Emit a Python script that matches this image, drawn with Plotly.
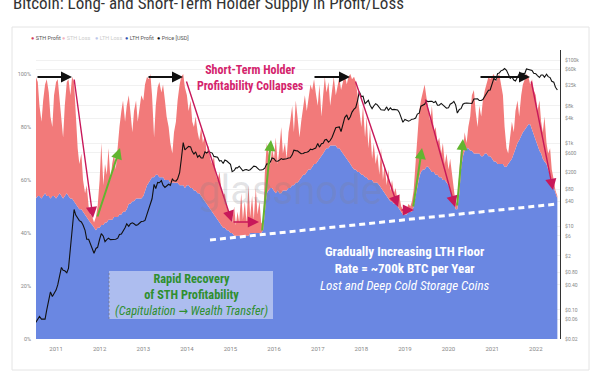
import math
import pandas as pd
import plotly.graph_objects as go

# ---------------- data (semi-monthly: 1st & 15th, 2010-07-15 .. 2022-07-01) ----------------
lth_profit = [  # % of circulating supply held by LTHs in profit
    53, 54, 54, 53, 54, 55, 54, 54, 53, 54, 54,
    53, 54, 55, 54, 53, 54, 55, 54, 53, 53, 52, 51, 50, 49, 49, 48, 47, 46, 45, 44, 43, 42, 41, 42,
    42, 43, 43, 44, 44, 45, 45, 45, 46, 46, 46, 47, 47, 48, 48, 49, 51, 51, 52, 52, 53, 53, 53, 53,
    54, 56, 58, 59, 60, 61, 61, 62, 62, 61, 61, 61, 60, 60, 60, 59, 59, 59, 59, 59, 58, 58, 58, 57,
    58, 58, 57, 57, 56, 56, 55, 55, 54, 53, 52, 51, 50, 49, 48, 47, 46, 45, 44, 43, 42, 42, 41, 41,
    40, 40, 39, 39, 39, 39, 39, 39, 39, 39, 39, 40, 40, 40, 40, 40, 40, 40, 41, 48, 55, 56, 57, 57,
    56, 55, 56, 55, 55, 56, 56, 56, 57, 57, 58, 58, 59, 59, 60, 61, 62, 62, 63, 64, 64, 65, 66, 66,
    67, 68, 69, 70, 71, 72, 72, 73, 73, 73, 73, 72, 72, 71, 70, 69, 68, 67, 66, 65, 64, 64, 63, 63,
    62, 62, 61, 61, 60, 60, 60, 59, 59, 59, 58, 57, 56, 55, 54, 53, 52, 52, 51, 51, 50, 49, 48, 47,
    47, 47, 48, 48, 48, 50, 54, 58, 61, 63, 64, 64, 65, 65, 64, 63, 63, 62, 62, 61, 61, 60, 60, 59,
    58, 56, 54, 52, 49, 49, 55, 64, 69, 71, 72, 72, 71, 71, 70, 70, 70, 70, 69, 69, 70, 70, 69, 69,
    68, 67, 67, 66, 66, 66, 66, 65, 65, 66, 67, 68, 70, 72, 74, 75, 77, 78, 79, 80, 81, 81, 79, 77,
    75, 73, 71, 70, 68, 67, 66, 64, 62, 60, 57, 55, 53,
]
sth_profit = [  # % of circulating supply held by STHs in profit
    46, 43, 34, 29, 36, 41, 44, 39, 31, 26, 38,
    44, 44, 35, 28, 23, 34, 42, 44, 39, 46, 45, 34, 22, 17, 21, 12, 8, 12, 5, 3, 3, 2, 5, 8,
    18, 31, 15, 22, 18, 27, 15, 21, 24, 18, 28, 33, 39, 42, 34, 39, 41, 33, 26, 34, 37, 29, 35, 39,
    36, 40, 41, 39, 40, 31, 15, 26, 33, 36, 32, 35, 30, 24, 20, 15, 11, 19, 23, 31, 38, 41, 42, 38,
    34, 28, 33, 25, 24, 28, 23, 20, 26, 21, 25, 19, 23, 19, 18, 22, 16, 15, 19, 14, 12, 13, 9, 7,
    6, 4, 11, 4, 9, 5, 16, 6, 13, 5, 19, 6, 14, 5, 17, 7, 12, 4, 2, 14, 19, 14, 9, 15,
    12, 21, 10, 17, 25, 14, 18, 12, 21, 25, 30, 20, 31, 25, 16, 21, 26, 30, 23, 26, 32, 29, 32, 27,
    21, 28, 15, 22, 28, 21, 25, 15, 22, 26, 19, 24, 27, 23, 28, 31, 28, 32, 34, 33, 35, 33, 29, 23,
    18, 26, 15, 23, 12, 20, 8, 15, 7, 11, 4, 15, 4, 11, 4, 11, 4, 8, 4, 6, 2, 5, 2, 2,
    3, 2, 3, 2, 4, 6, 14, 20, 25, 27, 30, 32, 26, 21, 18, 25, 15, 18, 12, 15, 9, 14, 6, 11,
    6, 12, 8, 6, 2, 3, 7, 8, 1, 7, 2, 8, 13, 21, 24, 16, 10, 18, 15, 21, 24, 26, 30, 29,
    31, 33, 30, 33, 34, 30, 26, 15, 7, 4, 9, 14, 8, 14, 16, 9, 15, 18, 19, 20, 18, 15, 19, 17,
    17, 13, 19, 12, 10, 17, 8, 6, 10, 4, 3, 1, 1,
]
price_usd = [
    0.05, 0.06, 0.07, 0.06, 0.06, 0.06, 0.10, 0.19, 0.27, 0.21, 0.24,
    0.30, 0.40, 0.70, 1.05, 0.90, 0.87, 0.78, 1.0, 3.0, 7.5, 26, 19, 16, 14, 13, 11, 8.2, 5.0, 5.0, 4.0, 3.2, 2.3, 3.0, 3.2,
    5.0, 6.8, 5.9, 4.4, 4.9, 5.3, 4.9, 4.9, 5.0, 5.0, 5.3, 6.5, 6.7, 7.6, 9.4, 11.7, 10.2, 11.8, 12.4, 11.8, 10.8, 11.2, 12.5, 13.3,
    13.5, 14.2, 20, 27, 34, 47, 104, 83, 116, 114, 129, 100, 88, 98, 105, 99, 140, 127, 125, 141, 200, 420, 1050, 700,
    770, 850, 830, 640, 560, 630, 470, 520, 450, 450, 630, 590, 640, 620, 590, 490, 480, 470, 380, 390, 330, 400, 380, 350,
    315, 210, 225, 260, 260, 285, 245, 220, 235, 237, 225, 235, 260, 285, 280, 260, 230, 230, 237, 255, 325, 320, 360, 450,
    430, 380, 375, 400, 435, 415, 415, 430, 450, 455, 535, 690, 675, 665, 610, 570, 575, 610, 615, 640, 730, 710, 750, 780,
    1000, 820, 985, 1010, 1220, 1250, 1080, 1180, 1420, 1750, 2400, 2450, 2500, 1930, 2870, 4200, 4900, 3700, 4400, 5700, 6700, 7300, 10900, 17600,
    13500, 13800, 9100, 10100, 10900, 8300, 6900, 8000, 9100, 8500, 7500, 6500, 6400, 6300, 7600, 6300, 7200, 6500, 6600, 6600, 6400, 5600, 4200, 3250,
    3800, 3600, 3450, 3600, 3850, 3900, 4100, 5100, 5350, 7900, 8600, 8800, 10600, 10200, 10400, 10300, 9600, 10300, 8300, 8350, 9200, 8500, 7400, 7100,
    7200, 8800, 9400, 10300, 8500, 5400, 6600, 6900, 8800, 9300, 9450, 9400, 9200, 9200, 11800, 11900, 11900, 10800, 10800, 11400, 13800, 16000, 19000, 19400,
    29400, 36800, 33500, 48000, 49600, 55900, 58800, 63500, 57800, 46700, 36700, 40200, 33500, 31800, 39900, 47000, 48800, 48100, 48100, 62000, 61000, 60100, 57200, 48900,
    47700, 43100, 38700, 44500, 44400, 39300, 46300, 40500, 38500, 31300, 29800, 22500, 19300,
]
year_ticks = [str(y) for y in range(2011, 2023)]
pct_ticks = [0, 20, 40, 60, 80, 100]
price_ticks = [0.02, 0.06, 0.10, 0.40, 0.80, 2, 6, 10, 40, 80, 200, 600, 1000, 4000, 8000, 25000, 60000, 100000]
price_tick_text = ["$0.02", "$0.06", "$0.10", "$0.40", "$0.80", "$2", "$6", "$10", "$40", "$80",
                   "$200", "$600", "$1k", "$4k", "$8k", "$25k", "$60k", "$100k"]

dates = pd.date_range("2010-07-15", periods=len(lth_profit), freq="SMS")

# ---------------- layout geometry (pixels) ----------------
W, H = 600, 387
L, R, T, B = 36, 560, 50, 339


def PX(x):
    return (x - L) / (R - L)


def PY(y):
    return (B - y) / (B - T)


BLUE = "#6a87e2"
RED = "#f27a7a"
NARROW = "Liberation Sans Narrow, Roboto Condensed, DejaVu Sans Condensed, Roboto, sans-serif"

fig = go.Figure()
fig.add_trace(go.Scatter(x=dates, y=lth_profit, name="LTH Profit", stackgroup="s",
                         mode="lines", line=dict(width=0, color=BLUE), fillcolor=BLUE))
fig.add_trace(go.Scatter(x=dates, y=sth_profit, name="STH Profit", stackgroup="s",
                         mode="lines", line=dict(width=0, color=RED), fillcolor=RED))
fig.add_trace(go.Scatter(x=dates, y=price_usd, name="Price [USD]", yaxis="y2",
                         mode="lines", line=dict(width=1.1, color="#111111")))

shapes = []
# card
shapes.append(dict(type="rect", xref="paper", yref="paper", x0=PX(12), x1=PX(589), y0=PY(370), y1=PY(27),
                   line=dict(color="#e4e4e4", width=1), fillcolor="rgba(0,0,0,0)", layer="below"))
# rapid recovery box
shapes.append(dict(type="rect", xref="paper", yref="paper", x0=PX(109), x1=PX(273), y0=PY(319), y1=PY(271),
                   line=dict(width=0), fillcolor="rgba(255,255,255,0.45)", layer="above"))
shapes.append(dict(type="line", xref="paper", yref="paper", x0=PX(109), x1=PX(109), y0=PY(319), y1=PY(271),
                   line=dict(width=1, color="rgba(120,120,140,0.8)", dash="2px,2px"), layer="above"))
# LTH floor dashed line
shapes.append(dict(type="line", xref="paper", yref="paper", x0=PX(210), x1=PX(557), y0=PY(240), y1=PY(204),
                   line=dict(width=3, color="white", dash="6px,4px"), layer="above"))

ann = []


def arrow(x0, y0, x1, y1, color, width, size, head=2):
    ann.append(dict(xref="paper", yref="paper", x=PX(x1), y=PY(y1), ax=x0 - x1, ay=y0 - y1,
                    axref="pixel", ayref="pixel", text="", showarrow=True, arrowhead=head,
                    arrowsize=size, arrowwidth=width, arrowcolor=color, standoff=0, startstandoff=0))


for (a, b) in [(36, 72), (147, 183), (313, 350), (479, 530)]:
    arrow(a, 77, b, 77, "#111111", 2.2, 1.0)
for (x0, y0, x1, y1) in [(74, 78, 93, 218), (186, 80, 232, 222), (355, 80, 398, 207),
                         (425, 98, 455, 207), (531, 80, 553, 190), (232, 222, 259, 222), (400, 210, 414, 210)]:
    arrow(x0, y0, x1, y1, "#c8185a", 1.4, 1.6)
for (x0, y0, x1, y1) in [(97, 218, 120, 148), (262, 232, 271, 140), (413, 208, 422, 148), (457, 207, 463, 139)]:
    arrow(x0, y0, x1, y1, "#62b530", 2.0, 1.1)


def label(x, y, text, font, xanchor="center", yanchor="middle"):
    ann.append(dict(xref="paper", yref="paper", x=PX(x), y=PY(y), xanchor=xanchor, yanchor=yanchor,
                    text=text, showarrow=False, font=font))


# watermark
label(290, 190, "glassnode", dict(family="Roboto, sans-serif", size=40, color="rgba(130,130,140,0.22)"))

# titles / texts
label(11, 15, "Bitcoin: Long- and Short-Term Holder Supply in Profit/Loss",
      dict(family=NARROW, size=17, color="#333333"), xanchor="left", yanchor="bottom")
label(250, 78, "<b>Short-Term Holder<br>Profitability Collapses</b>",
      dict(family=NARROW, size=12, color="#d4246c"))
label(191, 295, "<b>Rapid Recovery<br>of STH Profitability</b><br><i>(Capitulation → Wealth Transfer)</i>",
      dict(family=NARROW, size=12.3, color="#2f8f2f"))
label(405, 268, "<b>Gradually Increasing LTH Floor<br>Rate = ~700k BTC per Year</b><br><i>Lost and Deep Cold Storage Coins</i>",
      dict(family=NARROW, size=13, color="white"))

# legend (manual)
legend_items = [(29, "#d43d5a", "STH Profit", "#555555"), (60, "#f2b5bf", "STH Loss", "#cccccc"),
                (93, "#bcc6ea", "LTH Loss", "#cccccc"), (123, "#3652b0", "LTH Profit", "#555555"),
                (155, "#111111", "Price [USD]", "#555555")]
for x, dc, lab, tc in legend_items:
    label(x, 38, f"<span style='color:{dc}'>●</span> {lab}",
          dict(family="Roboto, sans-serif", size=5.5, color=tc), xanchor="left")

fig.update_layout(
    width=W, height=H, margin=dict(l=L, r=W - R, t=T, b=H - B),
    paper_bgcolor="white", plot_bgcolor="rgba(0,0,0,0)", showlegend=False,
    shapes=shapes, annotations=ann,
    xaxis=dict(type="date", range=["2010-07-17", "2022-07-23"],
               tickvals=[f"{y}-01-01" for y in year_ticks], ticktext=year_ticks,
               showgrid=False, zeroline=False, showline=False, ticks="",
               tickfont=dict(family="Roboto, sans-serif", size=6, color="#888888"), ticklabelstandoff=5),
    yaxis=dict(range=[0, (B - T) / 2.65], tickvals=pct_ticks, ticktext=[f"{p}%" for p in pct_ticks],
               showgrid=False, zeroline=False, showline=False, ticks="",
               tickfont=dict(family="Roboto, sans-serif", size=5.5, color="#888888"), ticklabelstandoff=4),
    yaxis2=dict(type="log", overlaying="y", side="right",
                range=[math.log10(0.02), math.log10(0.02) + (B - T) / 41.6],
                tickvals=price_ticks, ticktext=price_tick_text,
                showgrid=True, gridcolor="#f1f1f1", gridwidth=0.6, zeroline=False,
                showline=True, linecolor="#333333", linewidth=1.2, ticks="",
                tickfont=dict(family="Roboto, sans-serif", size=5, color="#888888"), ticklabelstandoff=3),
)

fig.write_html("out.html", config={"displayModeBar": False},
               post_script="document.body.style.margin='0px';")
